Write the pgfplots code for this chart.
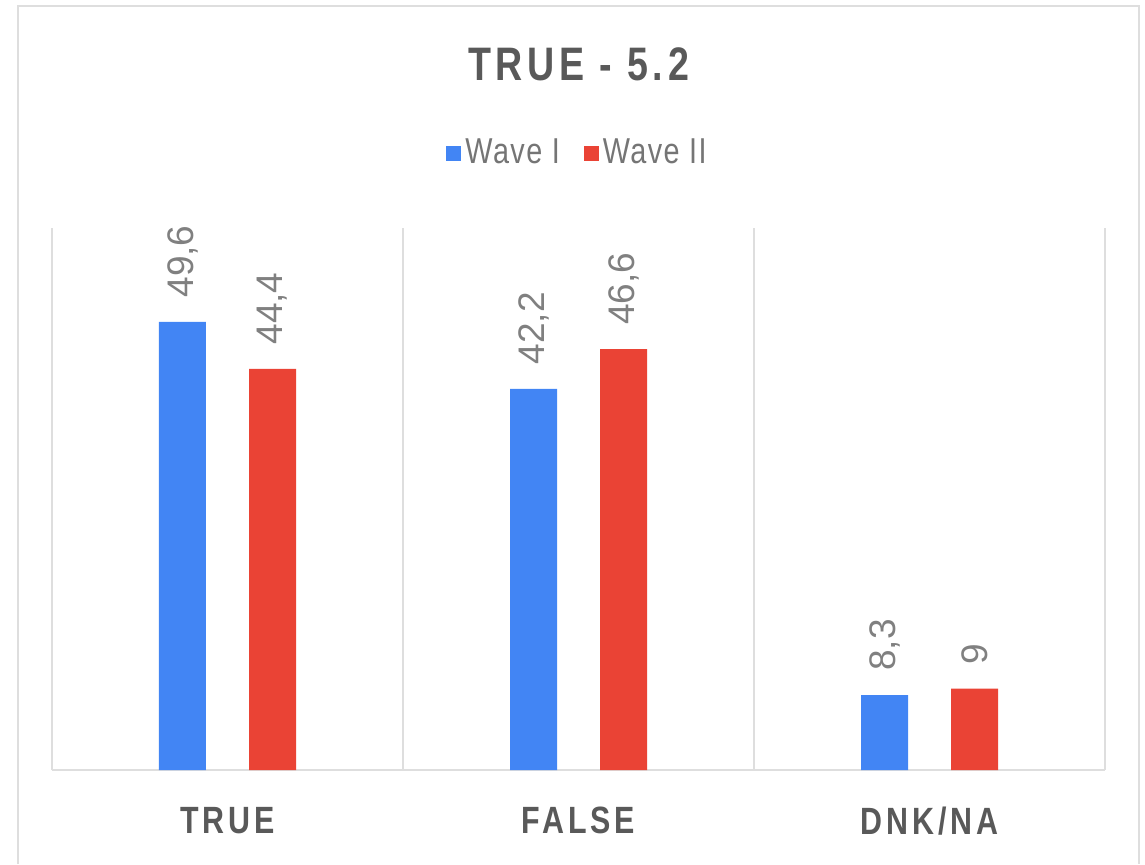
\documentclass[border=0pt]{standalone}
\usepackage{fontspec}
\setmainfont{Liberation Sans}[FakeStretch=0.8]
\newfontfamily\plainfont{Liberation Sans}
\newfontfamily\spacedfont{Liberation Sans}[FakeStretch=0.8, LetterSpace=10]
\newfontfamily\legfont{Liberation Sans}[FakeStretch=0.8, LetterSpace=4]
\usepackage{pgfplots}
\pgfplotsset{compat=1.18}
\definecolor{wblue}{HTML}{4285F4}
\definecolor{wred}{HTML}{EA4335}
\definecolor{gridc}{HTML}{DEDEDE}
\definecolor{titlec}{HTML}{595959}
\definecolor{legc}{HTML}{757575}
\definecolor{lblc}{HTML}{808080}
\begin{document}
\begin{tikzpicture}
\useasboundingbox (-26pt,-47pt) rectangle (546.5pt,385pt);
\draw[gridc, line width=1pt] (-17pt,-47pt) -- (-17pt,382pt) -- (543.5pt,382pt) -- (543.5pt,-47pt);
\begin{axis}[
  at={(0pt,0pt)}, anchor=south west,
  scale only axis, width=526.5pt, height=271pt,
  xmin=-0.5, xmax=2.5, ymin=0, ymax=60,
  axis y line=none, axis x line*=bottom,
  x axis line style={-, gridc, line width=1pt},
  xtick={-0.5,0.5,1.5,2.5}, xticklabels={},
  xmajorgrids, major grid style={gridc, line width=1pt},
  major tick length=0pt,
  extra x ticks={0,1,2},
  extra x tick labels={TRUE,FALSE,DNK/NA},
  extra x tick style={grid=none, major tick length=0pt},
  xticklabel style={font=\spacedfont\bfseries\fontsize{19}{19}\selectfont, text=titlec, yshift=-15pt},
  title={TRUE - 5.2},
  title style={at={(0.5,1)}, anchor=center, yshift=76pt, font=\spacedfont\bfseries\fontsize{23.5}{23.5}\selectfont, text=titlec},
  legend style={at={(0.5,1)}, anchor=center, yshift=37.5pt, draw=none, fill=none, legend columns=2,
    font=\legfont\fontsize{18}{18}\selectfont, text=legc,
    /tikz/every even column/.append style={column sep=10pt},
    nodes={inner xsep=2pt}},
  ybar=21.5pt, bar width=23.5pt,
  /pgf/number format/use comma,
  /pgf/number format/assume math mode=true,
  nodes near coords,
  nodes near coords style={font=\plainfont\fontsize{18.5}{18.5}\selectfont, text=lblc, rotate=90, anchor=west, inner xsep=12pt},
]
\addplot[fill=wblue, draw=none, legend image code/.code={\fill[wblue] (0pt,-3.75pt) rectangle (7.5pt,3.75pt);}] coordinates {(0,49.6) (1,42.2) (2,8.3)};
\addlegendentry{Wave I}
\addplot[fill=wred, draw=none, legend image code/.code={\fill[wred] (0pt,-3.75pt) rectangle (7.5pt,3.75pt);}] coordinates {(0,44.4) (1,46.6) (2,9)};
\addlegendentry{Wave II}
\end{axis}
\end{tikzpicture}
\end{document}
